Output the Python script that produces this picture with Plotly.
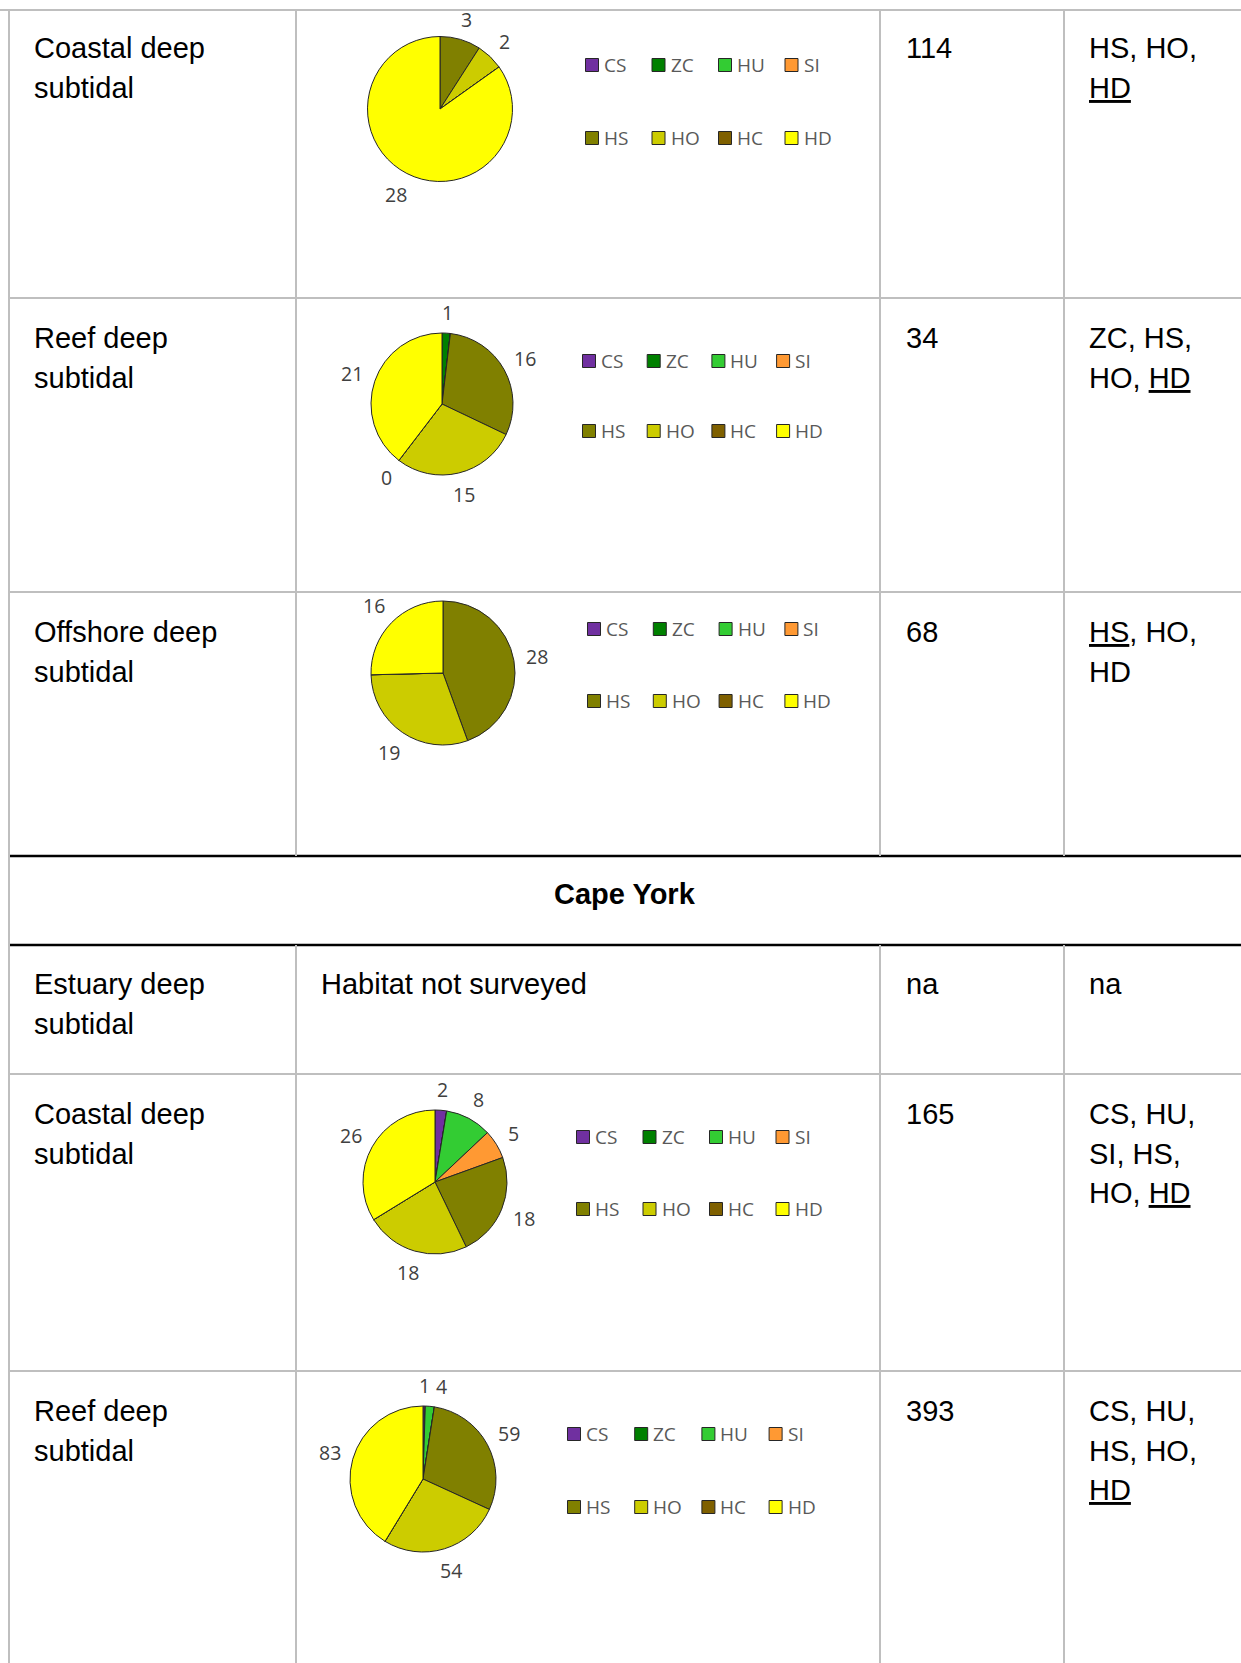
import math
import plotly.graph_objects as go

W, H = 1241, 1663

# ---------------- data ----------------
habitats = ["CS", "ZC", "HU", "SI", "HS", "HO", "HC", "HD"]
habitat_colors = ["#7030A0", "#008000", "#33CC33", "#FF9933",
                  "#808000", "#CCCC00", "#7F6000", "#FFFF00"]

# counts per habitat class (None = class not recorded / no label)
coastal_deep = [None, None, None, None, 3, 2, None, 28]
reef_deep = [None, 1, None, None, 16, 15, 0, 21]
offshore_deep = [None, None, None, None, 28, 19, None, 16]
cy_coastal_deep = [2, None, 8, 5, 18, 18, None, 26]
cy_reef_deep = [1, None, 4, None, 59, 54, None, 83]

row_names = [["Coastal deep", "subtidal"], ["Reef deep", "subtidal"],
             ["Offshore deep", "subtidal"], ["Estuary deep", "subtidal"],
             ["Coastal deep", "subtidal"], ["Reef deep", "subtidal"]]
row_totals = ["114", "34", "68", "na", "165", "393"]
row_dominant = [["HS, HO,", "<u>HD</u>"], ["ZC, HS,", "HO, <u>HD</u>"],
                ["<u>HS</u>, HO,", "HD"], ["na"],
                ["CS, HU,", "SI, HS,", "HO, <u>HD</u>"],
                ["CS, HU,", "HS, HO,", "<u>HD</u>"]]
section_title = "Cape York"
not_surveyed_text = "Habitat not surveyed"

# ---------------- layout geometry ----------------
GRID = "#BFBFBF"
col_x = [9, 296, 880, 1064]
text_x = [32, 319, 904, 1087]
row_top = [48, 338, 632, 984, 1114, 1411]
line_step = 39.6

# pie charts: (values, centre x, centre y, radius, legend x0, legend dx, legend y0, legend y1)
pies = [
    (coastal_deep, 440, 109, 72.5, 592, 66.5, 65, 138),
    (reef_deep, 442, 404, 71, 589, 64.7, 361, 431),
    (offshore_deep, 443, 673, 72, 594, 65.8, 629, 701),
    (cy_coastal_deep, 435, 1182, 72, 583, 66.5, 1137, 1209),
    (cy_reef_deep, 423, 1479, 73, 574, 67.2, 1434, 1507),
]

fig = go.Figure()
shapes = []
annotations = []

# table grid lines
shapes.append(dict(type="line", x0=0, x1=W, y0=10, y1=10, line=dict(color=GRID, width=2)))
for yy in [298, 592, 1074, 1371]:
    shapes.append(dict(type="line", x0=col_x[0], x1=W, y0=yy, y1=yy, line=dict(color=GRID, width=2)))
for yy in [856, 945]:
    shapes.append(dict(type="line", x0=col_x[0] - 1, x1=W, y0=yy, y1=yy, line=dict(color="black", width=2.5)))
for xx in col_x:
    shapes.append(dict(type="line", x0=xx, x1=xx, y0=9, y1=856, line=dict(color=GRID, width=2)))
    shapes.append(dict(type="line", x0=xx, x1=xx, y0=945, y1=H, line=dict(color=GRID, width=2)))
shapes.append(dict(type="line", x0=col_x[0], x1=col_x[0], y0=856, y1=945, line=dict(color=GRID, width=2)))

TXT = dict(family="Liberation Sans, Arial, sans-serif", size=29, color="black")


def add_text(x, y, text, font=TXT, xanchor="left"):
    annotations.append(dict(x=x, y=y, xref="x", yref="y", text=text, showarrow=False,
                            xanchor=xanchor, yanchor="middle", font=font))


for i in range(6):
    for j, line in enumerate(row_names[i]):
        add_text(text_x[0], row_top[i] + j * line_step, line)
    add_text(text_x[2], row_top[i], row_totals[i])
    for j, line in enumerate(row_dominant[i]):
        add_text(text_x[3], row_top[i] + j * line_step, line)

add_text(text_x[1], row_top[3], not_surveyed_text)
add_text(625, 894, "<b>" + section_title + "</b>", xanchor="center")

# pies
LBL = dict(family="Open Sans, sans-serif", size=19.5, color="#404040")
LEG = dict(family="Open Sans, sans-serif", size=19, color="#595959")

for vals, cx, cy, r, lx0, ldx, ly0, ly1 in pies:
    pie_vals = [v if v is not None else 0 for v in vals]
    fig.add_trace(go.Pie(
        labels=habitats, values=pie_vals, sort=False, direction="clockwise", rotation=0,
        marker=dict(colors=habitat_colors, line=dict(color="#262626", width=1)),
        textinfo="none", hoverinfo="label+value", showlegend=False,
        domain=dict(x=[(cx - r) / W, (cx + r) / W], y=[1 - (cy + r) / H, 1 - (cy - r) / H]),
    ))
    # data labels, placed just outside the slice mid-angle ("outside end")
    total = sum(v for v in vals if v)
    ang = 0.0
    labels = []
    for v in vals:
        if v is None:
            continue
        a0 = ang
        ang += v / total * 360.0
        mid = math.radians((a0 + ang) / 2)
        t = str(v)
        hw, hh = 4.5 * len(t), 7.0
        d = r + 13 + hw * abs(math.sin(mid)) + hh * abs(math.cos(mid))
        labels.append([cx + d * math.sin(mid), cy - d * math.cos(mid), t])
    for k in range(1, len(labels)):
        px, py, _ = labels[k - 1]
        if abs(labels[k][1] - py) < 18 and abs(labels[k][0] - px) < 17:
            labels[k][0] = px + 17
    for x, y, t in labels:
        add_text(x, y, t, font=LBL, xanchor="center")
    # legend (two rows of four)
    lx, ly, lc = [], [], []
    for k, (hname, col) in enumerate(zip(habitats, habitat_colors)):
        x = lx0 + (k % 4) * ldx
        y = ly0 if k < 4 else ly1
        lx.append(x)
        ly.append(y)
        lc.append(col)
        add_text(x + 10, y, hname, font=LEG)
    fig.add_trace(go.Scatter(x=lx, y=ly, mode="markers", showlegend=False, hoverinfo="skip",
                             marker=dict(symbol="square", size=13, color=lc,
                                         line=dict(color="#262626", width=1))))

fig.update_layout(
    width=W, height=H, autosize=False,
    margin=dict(l=0, r=0, t=0, b=0, pad=0),
    paper_bgcolor="white", plot_bgcolor="white",
    xaxis=dict(range=[0, W], visible=False, fixedrange=True, domain=[0, 1]),
    yaxis=dict(range=[H, 0], visible=False, fixedrange=True, domain=[0, 1]),
    shapes=shapes, annotations=annotations, showlegend=False,
)

fig.write_html("out.html")
